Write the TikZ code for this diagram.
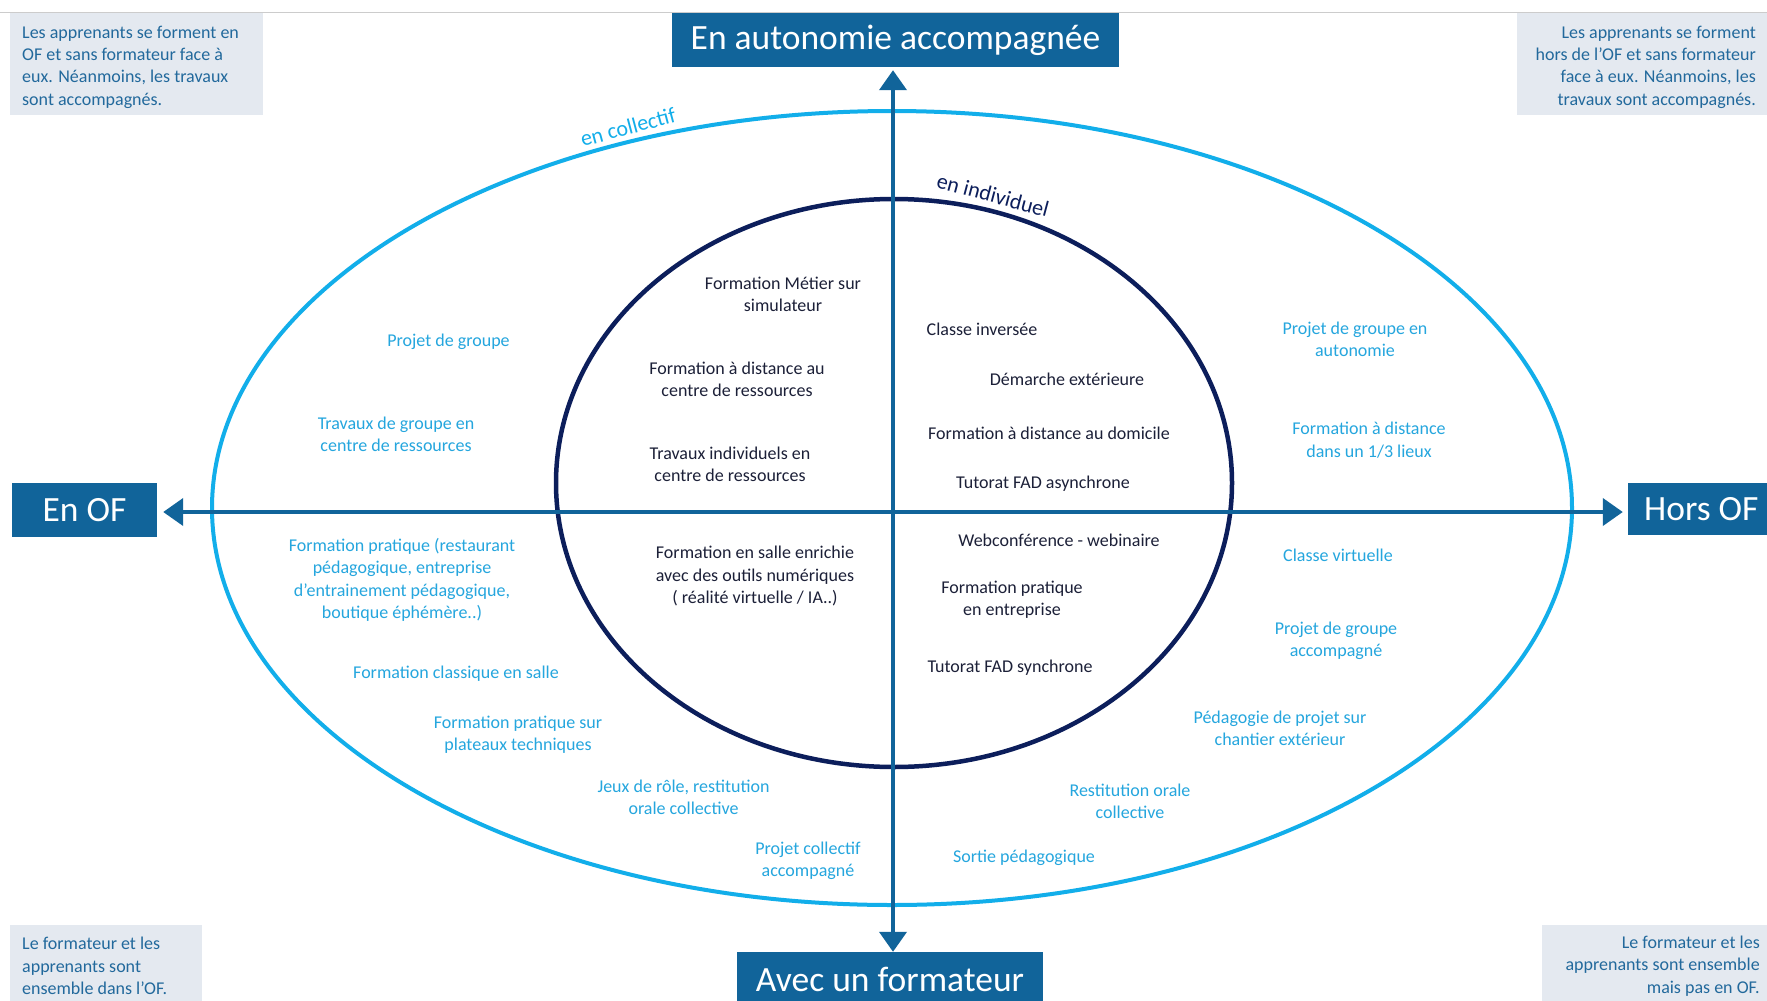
\documentclass[tikz,border=0pt]{standalone}
\usepackage{fontspec}
\setmainfont{Carlito}
\usetikzlibrary{arrows.meta}
\definecolor{boxblue}{HTML}{11649A}
\definecolor{outerc}{HTML}{12AEEA}
\definecolor{innerc}{HTML}{0C1E5B}
\definecolor{outertext}{HTML}{25A6DE}
\definecolor{innertext}{HTML}{1C2038}
\definecolor{cornerfill}{HTML}{E4E9F0}
\definecolor{cornertext}{HTML}{22699C}
\definecolor{topline}{HTML}{CCCCCC}
\begin{document}
\begin{tikzpicture}[x=1pt,y=-1pt,
  titlebox/.style={fill=boxblue, text=white, font=\fontsize{35.5}{42}\selectfont, inner sep=0pt},
  titletxt/.style={text=white, font=\fontsize{35.5}{42}\selectfont, inner sep=0pt},
  cornerbox/.style={fill=cornerfill, inner sep=0pt},
  cornertxt/.style={text=cornertext, font=\fontsize{18}{22.3}\selectfont, inner sep=0pt},
  intxt/.style={text=innertext, font=\fontsize{18}{22.3}\selectfont, align=center, inner sep=0pt},
  outtxt/.style={text=outertext, font=\fontsize{18}{22.3}\selectfont, align=center, inner sep=0pt},
  axisline/.style={draw=boxblue, line width=4pt, {Triangle[length=20pt,width=27pt]}-{Triangle[length=20pt,width=27pt]}},
  curvelabel/.style={font=\fontsize{22}{26}\selectfont, inner sep=0pt}
]
\useasboundingbox (0,0) rectangle (1767,1001);
\fill[white] (0,0) rectangle (1767,1001);
\draw[topline, line width=1pt] (0,12) -- (1767,12);

% corner boxes
\node[cornerbox, minimum width=253pt, minimum height=102pt] (tlbox) at (136.5,64) {};
\node[cornertxt, anchor=west, align=left] (tltxt) at (22,67) {Les apprenants se forment en\\OF et sans formateur face à\\eux. Néanmoins, les travaux\\sont accompagnés.};
\node[cornerbox, minimum width=250pt, minimum height=102pt] (trbox) at (1642,64) {};
\node[cornertxt, anchor=east, align=right] (trtxt) at (1756,67) {Les apprenants se forment\\hors de l’OF et sans formateur\\face à eux. Néanmoins, les\\travaux sont accompagnés.};
\node[cornerbox, minimum width=192pt, minimum height=80pt] (blbox) at (106,965) {};
\node[cornertxt, anchor=west, align=left] (bltxt) at (22,966) {Le formateur et les\\apprenants sont\\ensemble dans l’OF.};
\node[cornerbox, minimum width=225pt, minimum height=80pt] (brbox) at (1654.5,965) {};
\node[cornertxt, anchor=east, align=right] (brtxt) at (1760,966) {Le formateur et les\\apprenants sont ensemble\\mais pas en OF.};

% ellipses
\draw[outerc, line width=4pt] (892,508) ellipse [x radius=680pt, y radius=397pt];
\draw[innerc, line width=4.5pt] (894,483) ellipse [x radius=338pt, y radius=284pt];

% title boxes
\node[titlebox, minimum width=447pt, minimum height=54pt] (top) at (895.5,40) {En autonomie accompagnée};
\node[titlebox, minimum width=306pt, minimum height=54pt] (bot) at (890,979) {Avec un formateur};
\node[titlebox, minimum width=145pt, minimum height=54pt] (left) at (84.5,510) {En OF};
\node[titlebox, minimum width=150pt, minimum height=52pt] (right) at (1703,509) {};
\node[titletxt, anchor=west] (righttxt) at (1644,509) {Hors OF};

% axes
\coordinate (o) at (893,512);
\draw[axisline, shorten <=3pt] (o |- top.south) -- (o |- bot.north);
\draw[axisline, shorten <=6pt, shorten >=5pt] (left.east |- o) -- (right.west |- o);

% curved labels
\node[curvelabel, text=outerc, rotate=15] (coll) at (628,127) {en collectif};
\node[curvelabel, text=innerc, rotate=-15] (indiv) at (993,195) {en individuel};

% inner texts
\node[intxt] (i1) at (783,294) {Formation Métier sur\\simulateur};
\node[intxt] (i2) at (737,379) {Formation à distance au\\centre de ressources};
\node[intxt] (i3) at (730,464) {Travaux individuels en\\centre de ressources};
\node[intxt] (i4) at (755,576) {Formation en salle enrichie\\avec des outils numériques\\( réalité virtuelle / IA..)};
\node[intxt] (i5) at (982,329) {Classe inversée};
\node[intxt] (i6) at (1067,379) {Démarche extérieure};
\node[intxt] (i7) at (1049,433) {Formation à distance au domicile};
\node[intxt] (i8) at (1043,483.5) {Tutorat FAD asynchrone};
\node[intxt] (i9) at (1059,540) {Webconférence - webinaire};
\node[intxt] (i10) at (1012,600) {Formation pratique\\en entreprise};
\node[intxt] (i11) at (1010,668) {Tutorat FAD synchrone};

% outer texts
\node[outtxt] (o1) at (448.5,341.5) {Projet de groupe};
\node[outtxt] (o2) at (396,434) {Travaux de groupe en\\centre de ressources};
\node[outtxt] (o3) at (402,580) {Formation pratique (restaurant\\pédagogique, entreprise\\d’entrainement pédagogique,\\boutique éphémère..)};
\node[outtxt] (o4) at (456,674) {Formation classique en salle};
\node[outtxt] (o5) at (518,735) {Formation pratique sur\\plateaux techniques};
\node[outtxt] (o6) at (683.5,797) {Jeux de rôle, restitution\\orale collective};
\node[outtxt] (o7) at (808,861) {Projet collectif\\accompagné};
\node[outtxt] (o8) at (1024,858) {Sortie pédagogique};
\node[outtxt] (o9) at (1130,801) {Restitution orale\\collective};
\node[outtxt] (o10) at (1280,728) {Pédagogie de projet sur\\chantier extérieur};
\node[outtxt] (o11) at (1336,641) {Projet de groupe\\accompagné};
\node[outtxt] (o12) at (1338,555) {Classe virtuelle};
\node[outtxt] (o13) at (1369,440) {Formation à distance\\dans un 1/3 lieux};
\node[outtxt] (o14) at (1355,339) {Projet de groupe en\\autonomie};
\end{tikzpicture}
\end{document}
